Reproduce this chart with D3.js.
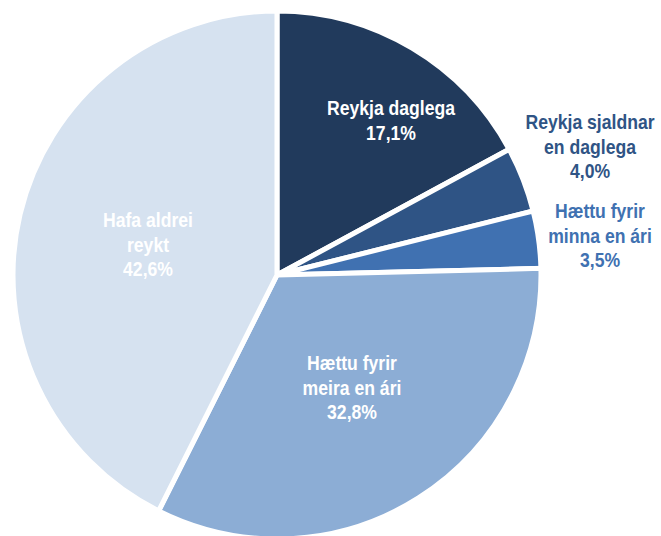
<!DOCTYPE html>
<html><head><meta charset="utf-8">
<script src="https://cdn.jsdelivr.net/npm/d3@7"></script>
<style>
html,body{margin:0;padding:0;background:#fff;}
text{font-family:"Liberation Sans Narrow","Arial Narrow","Liberation Sans",Arial,sans-serif;font-weight:bold;}
</style></head>
<body>
<svg id="c" width="661" height="536"></svg>
<script>
const categories = [
  ["Reykja daglega"],
  ["Reykja sjaldnar", "en daglega"],
  ["Hættu fyrir", "minna en ári"],
  ["Hættu fyrir", "meira en ári"],
  ["Hafa aldrei", "reykt"]
];
const values = [17.1, 4.0, 3.5, 32.8, 42.6];
const valueLabels = ["17,1%", "4,0%", "3,5%", "32,8%", "42,6%"];

const colors = ["#213a5c", "#2f5485", "#4071b1", "#8cadd5", "#d6e2f0"];
const textColors = ["#ffffff", "#2f5485", "#4071b1", "#ffffff", "#ffffff"];
// label anchor points (layout only)
const labelPos = [[391, 108], [590, 122], [600, 211], [352, 363], [148, 220]];

const svg = d3.select("#c");
const cx = 277, cy = 275, R = 264;
const pie = d3.pie().sort(null).value(d => d);
const arc = d3.arc().innerRadius(0).outerRadius(R);
const g = svg.append("g").attr("transform", `translate(${cx},${cy})`);
g.selectAll("path").data(pie(values)).join("path")
  .attr("d", arc)
  .attr("fill", (d, i) => colors[i])
  .attr("stroke", "#fff")
  .attr("stroke-width", 5)
  .attr("stroke-linejoin", "miter");

const lh = 24.5;
categories.forEach((lines, i) => {
  const all = lines.concat([valueLabels[i]]);
  const lg = svg.append("g")
    .attr("transform", `translate(${labelPos[i][0]},${labelPos[i][1]}) scale(0.88,1)`);
  const t = lg.append("text")
    .attr("x", 0).attr("y", 0)
    .attr("text-anchor", "middle")
    .attr("dominant-baseline", "central")
    .attr("fill", textColors[i])
    .style("font-size", "20px");
  all.forEach((s, k) => {
    t.append("tspan").attr("x", 0).attr("dy", k === 0 ? 0 : lh).text(s);
  });
});
</script>
</body></html>
